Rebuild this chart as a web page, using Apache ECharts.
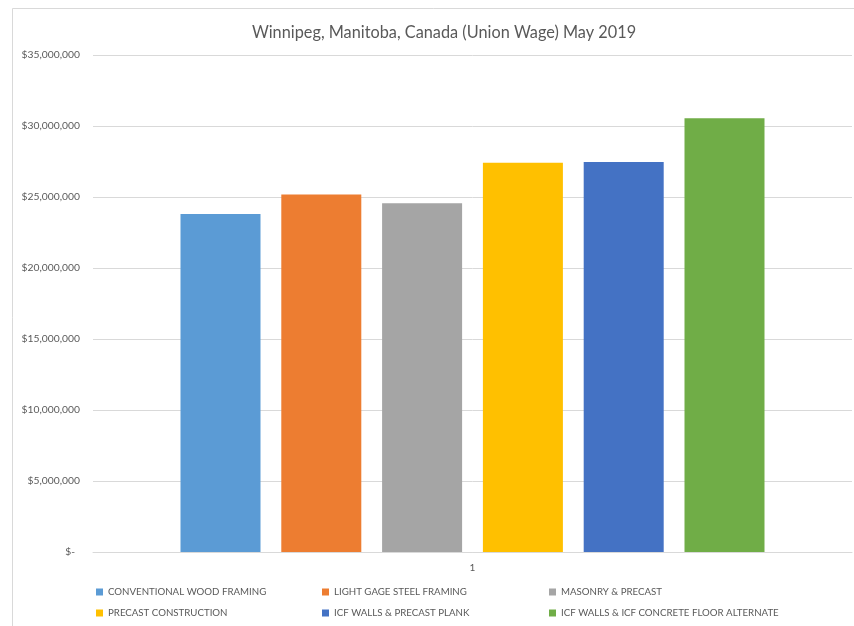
<!DOCTYPE html>
<html>
<head>
<meta charset="utf-8">
<script src="https://cdn.jsdelivr.net/npm/echarts@6/dist/echarts.min.js"></script>
<style>
html, body { margin: 0; padding: 0; background: #fff; }
#main { width: 854px; height: 626px; }
</style>
</head>
<body>
<div id="main"></div>
<script>
const categories = ['1']
const seriesNames = [
	'CONVENTIONAL WOOD FRAMING',
	'LIGHT GAGE STEEL FRAMING',
	'MASONRY & PRECAST',
	'PRECAST CONSTRUCTION',
	'ICF WALLS & PRECAST PLANK',
	'ICF WALLS & ICF CONCRETE FLOOR ALTERNATE'
]
const seriesValues = [23800000, 25170000, 24560000, 27420000, 27460000, 30540000]
const colors = ['#5B9BD5', '#ED7D31', '#A5A5A5', '#FFC000', '#4472C4', '#70AD47']

const font = 'Lato, sans-serif'
const legendText = { color: '#595959', fontSize: 9.7, fontFamily: font }

function legendCol(left, names) {
	return {
		orient: 'vertical',
		left: left,
		top: 587,
		padding: 0,
		itemWidth: 7,
		itemHeight: 7,
		itemGap: 11,
		icon: 'rect',
		textStyle: legendText,
		data: names,
		selectedMode: false
	}
}

const option = {
	backgroundColor: '#fff',
	title: {
		text: 'Winnipeg, Manitoba, Canada (Union Wage) May 2019',
		left: 439,
		textAlign: 'center',
		top: 20,
		textStyle: { color: '#595959', fontSize: 16.3, fontWeight: 'normal', fontFamily: font }
	},
	graphic: [{
		type: 'rect',
		shape: { x: 12.5, y: 8.5, width: 900, height: 700 },
		style: { fill: 'none', stroke: '#d9d9d9', lineWidth: 1 },
		silent: true
	}],
	legend: [
		legendCol(96, [seriesNames[0], seriesNames[3]]),
		legendCol(322, [seriesNames[1], seriesNames[4]]),
		legendCol(549, [seriesNames[2], seriesNames[5]])
	],
	grid: { left: 93, right: 2, top: 55, bottom: 74 },
	xAxis: {
		type: 'category',
		data: categories,
		axisLine: { show: true, lineStyle: { color: '#d9d9d9' } },
		axisTick: { show: false },
		axisLabel: { color: '#595959', fontSize: 10, fontFamily: font, margin: 11 }
	},
	yAxis: {
		type: 'value',
		min: 0,
		max: 35000000,
		interval: 5000000,
		axisLine: { show: false },
		axisTick: { show: false },
		splitLine: { lineStyle: { color: '#d9d9d9' } },
		axisLabel: {
			color: '#595959',
			fontSize: 10.3,
			fontFamily: font,
			margin: 13,
			formatter: (v) => v === 0 ? '{z|$-}' : '$' + v.toLocaleString('en-US'),
			rich: { z: { color: '#595959', fontSize: 10.3, fontFamily: font, padding: [0, 5, 0, 0] } }
		}
	},
	series: seriesNames.map((name, i) => ({
		name: name,
		type: 'bar',
		barWidth: 80,
		barGap: '26%',
		itemStyle: { color: colors[i] },
		data: [seriesValues[i]]
	}))
}

const chartDom = echarts.init(document.getElementById('main'))
chartDom.setOption(option, true)
</script>
</body>
</html>
